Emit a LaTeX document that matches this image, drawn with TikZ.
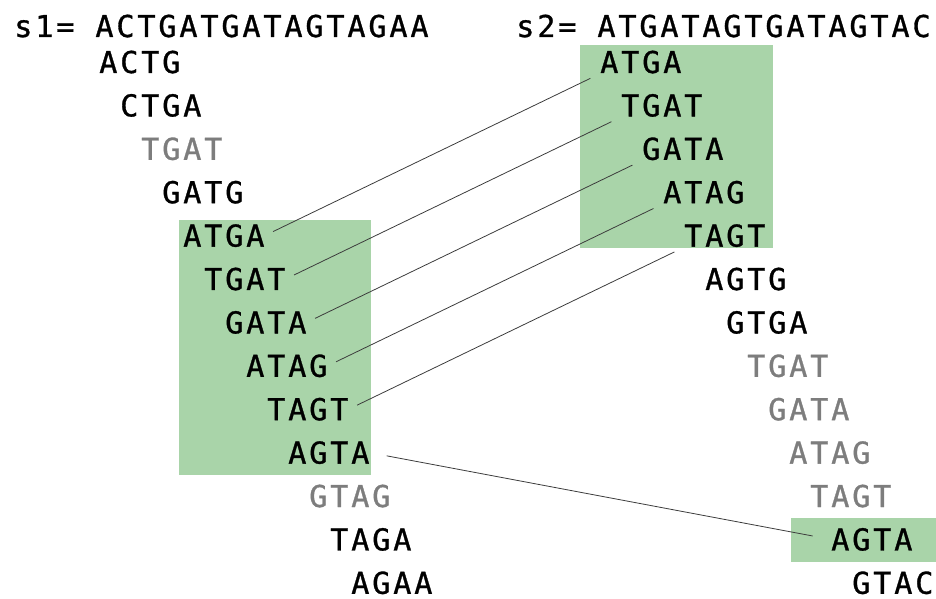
\documentclass[tikz,border=0pt]{standalone}
\usepackage{fontspec}
\usepackage{tikz}
\usetikzlibrary{calc, positioning}
\pgfdeclarelayer{bg}
\pgfsetlayers{bg,main}

\newfontfamily\seqfont[LetterSpace=9.5, FakeBold=1]{DejaVu Sans Mono}
\definecolor{hitgreen}{RGB}{169,212,169}
\definecolor{repgray}{RGB}{125,125,125}
\definecolor{linkgray}{RGB}{60,60,60}

\tikzset{
	kmer/.style={anchor=base west, inner sep=0pt, font=\seqfont\fontsize{22.6}{27}\selectfont},
	rep/.style={kmer, text=repgray},
	link/.style={draw=linkgray, line width=0.6pt, shorten >=8pt, shorten <=7pt}
}

\begin{document}
\begin{tikzpicture}[x=0.75pt, y=-0.75pt]
	\useasboundingbox (0,0) rectangle (936,599);

	% the two strings
	\node [kmer] (s1) at (14,37) {s1= ACTGATGATAGTAGAA};
	\node [kmer] (s2) at (516,37) {s2= ATGATAGTGATAGTAC};

	% 4-mers of s1
	\node [kmer] (l0) at (99,73) {ACTG};
	\node [kmer] (l1) at (120,116.4) {CTGA};
	\node [rep] (l2) at (141,159.8) {TGAT};
	\node [kmer] (l3) at (162,203.2) {GATG};
	\node [kmer] (l4) at (183,246.6) {ATGA};
	\node [kmer] (l5) at (204,290) {TGAT};
	\node [kmer] (l6) at (225,333.4) {GATA};
	\node [kmer] (l7) at (246,376.8) {ATAG};
	\node [kmer] (l8) at (267,420.2) {TAGT};
	\node [kmer] (l9) at (288,463.6) {AGTA};
	\node [rep] (l10) at (309,507) {GTAG};
	\node [kmer] (l11) at (330,550.4) {TAGA};
	\node [kmer] (l12) at (351,593.8) {AGAA};

	% 4-mers of s2
	\node [kmer] (r0) at (600,73) {ATGA};
	\node [kmer] (r1) at (621,116.4) {TGAT};
	\node [kmer] (r2) at (642,159.8) {GATA};
	\node [kmer] (r3) at (663,203.2) {ATAG};
	\node [kmer] (r4) at (684,246.6) {TAGT};
	\node [kmer] (r5) at (705,290) {AGTG};
	\node [kmer] (r6) at (726,333.4) {GTGA};
	\node [rep] (r7) at (747,376.8) {TGAT};
	\node [rep] (r8) at (768,420.2) {GATA};
	\node [rep] (r9) at (789,463.6) {ATAG};
	\node [rep] (r10) at (810,507) {TAGT};
	\node [kmer] (r11) at (831,550.4) {AGTA};
	\node [kmer] (r12) at (852,593.8) {GTAC};

	\begin{pgfonlayer}{bg}
		\fill [hitgreen] (179,220) rectangle (371,475);
		\fill [hitgreen] (580,45) rectangle (773,248);
		\fill [hitgreen] (791,518) rectangle (936,562);
	\end{pgfonlayer}

	% matching 4-mers
	\draw [link] (l4.east) -- (r0.south west);
	\draw [link] (l5.east) -- (r1.south west);
	\draw [link] (l6.east) -- (r2.south west);
	\draw [link] (l7.east) -- (r3.south west);
	\draw [link] (l8.east) -- (r4.south west);
	\draw [link, shorten >=14pt, shorten <=13pt] (l9.east) -- (r11.west);
\end{tikzpicture}
\end{document}
